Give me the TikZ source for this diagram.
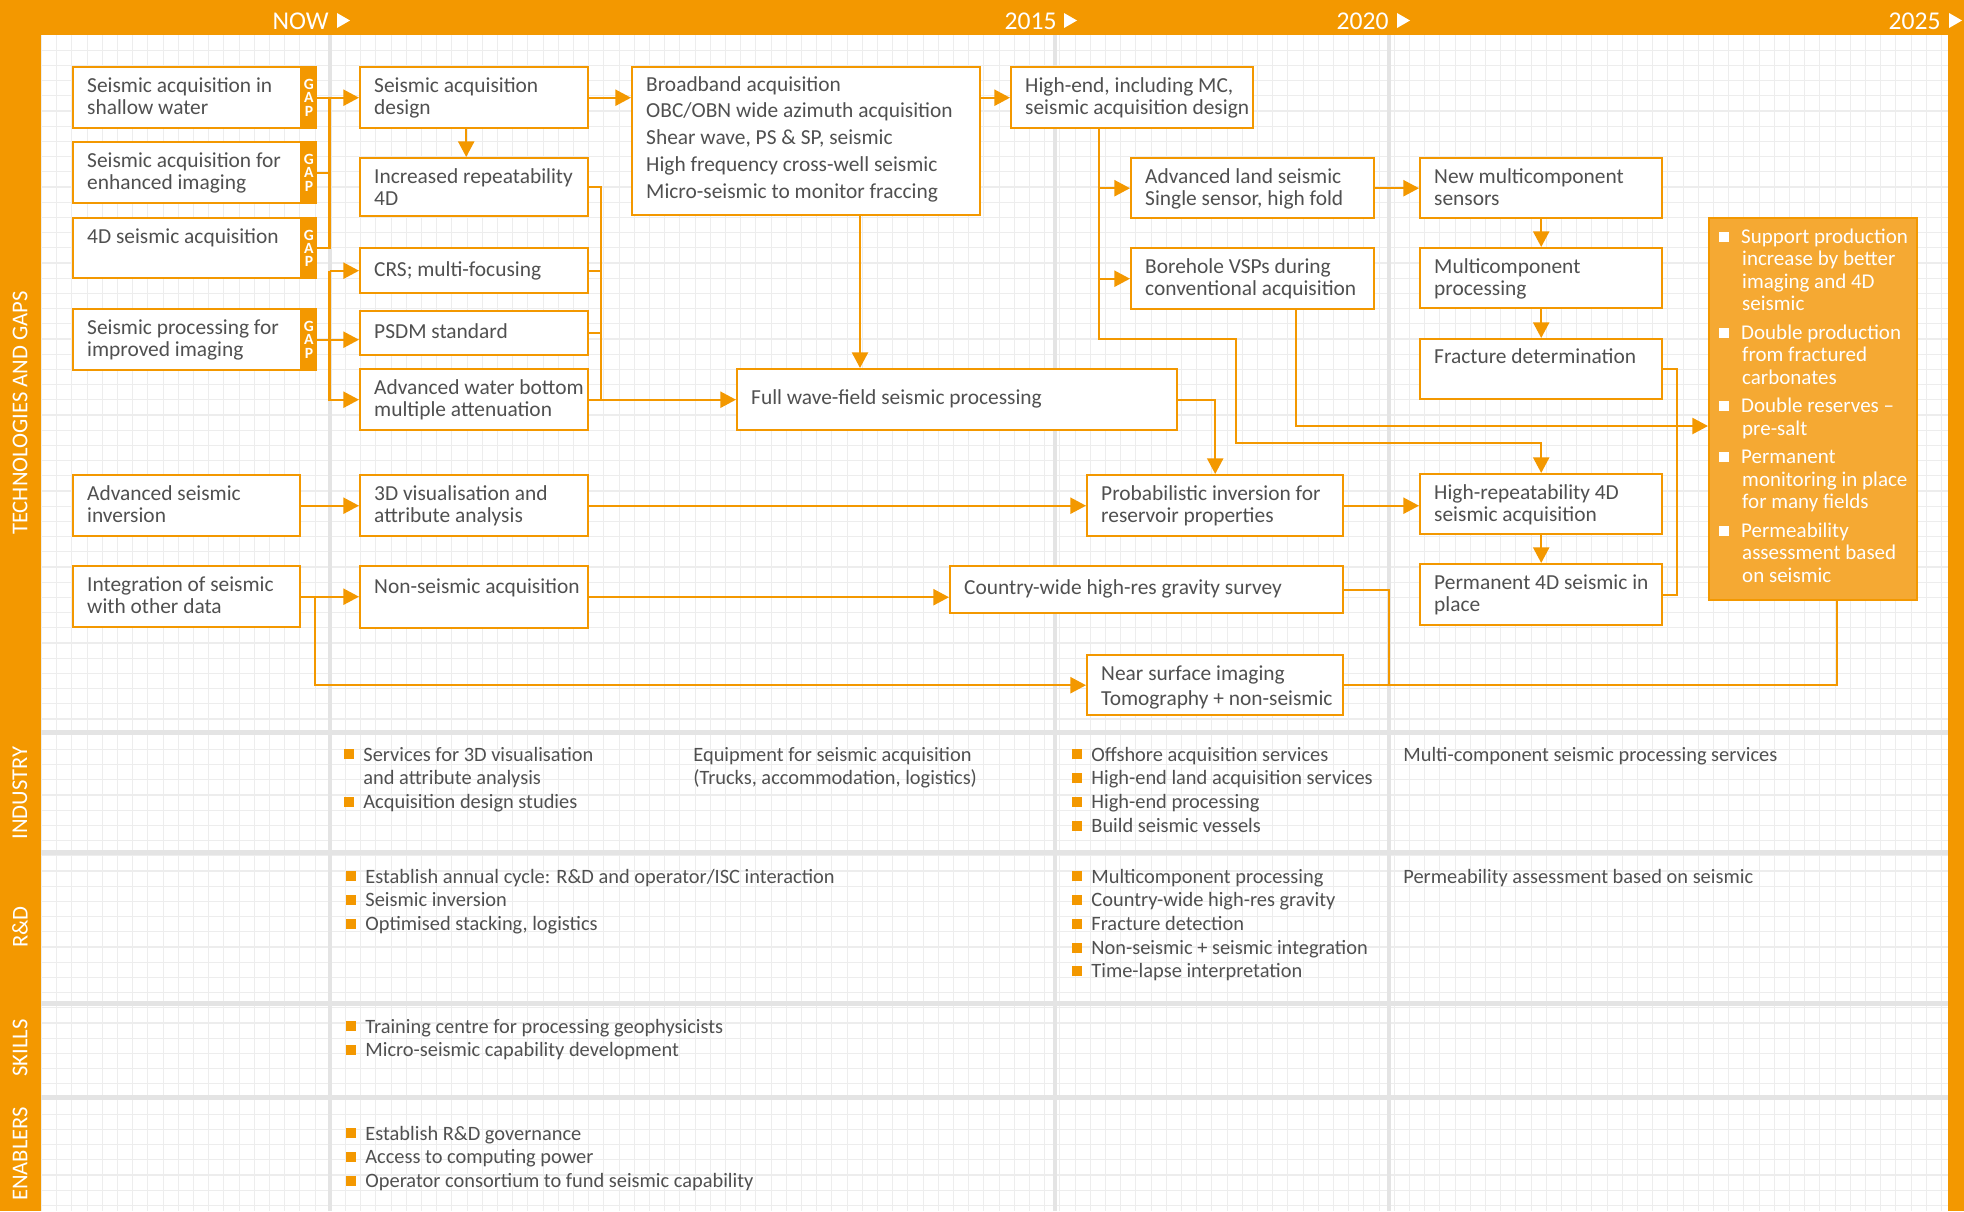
\documentclass[tikz,border=0pt]{standalone}
\usepackage{fontspec}
\setmainfont{Carlito}
\usetikzlibrary{arrows.meta}
\definecolor{or}{HTML}{F39800}
\definecolor{sfill}{HTML}{F5A933}
\definecolor{tx}{HTML}{505050}
\definecolor{gridc}{HTML}{EDEDED}
\definecolor{sepc}{HTML}{E4E4E4}
\newcommand\bfnt{\fontsize{10.7}{11.35}\selectfont\color{tx}}
\newcommand\bxt[4][12.5pt]{\parbox[c][#3][t]{#2}{\bfnt\raggedright\leftskip=7pt\rightskip=-40pt plus 1fil\rule{0pt}{#1}#4}}
\newcommand\osq[2]{\makebox[#2][l]{\textcolor{#1}{\raisebox{0.8pt}{\rule{5pt}{5pt}}}}}
\newcommand\lii[1]{\par\noindent\osq{or}{9.5pt}#1}
\newcommand\lcc[1]{\par\noindent\hspace*{9.5pt}#1}
\newcommand\lfn{\fontsize{10.2}{11.85}\selectfont\raggedright\rightskip=-40pt plus 1fil}
\newcommand\lbk[2]{{\color{tx}\parbox[t]{#1}{\lfn #2}}}
\newcommand\sfi[1]{\par\noindent\rule{0pt}{12.5pt}\osq{white}{11pt}#1}
\newcommand\sii[1]{\par\vspace{3pt}\noindent\osq{white}{11pt}#1}
\newcommand\scc[1]{\par\noindent\hspace*{11.5pt}#1}
\begin{document}
\begin{tikzpicture}[x=0.5pt,y=-0.5pt,
  bx/.style={draw=or, line width=1.2pt, fill=white, inner sep=0pt, anchor=north west},
  ln/.style={draw=or, line width=1.1pt},
  ar/.style={ln, -{Triangle[length=7.8pt,width=8pt]}},
  gapt/.style={text=white, font=\fontsize{7.8}{6.6}\selectfont\bfseries, inner sep=0pt, align=center},
  hdr/.style={text=white, font=\fontsize{12.8}{14}\selectfont, inner sep=0pt, anchor=base east},
  side/.style={text=white, font=\fontsize{11.3}{13}\selectfont, rotate=90, inner sep=0pt},
  lst/.style={inner sep=0pt, anchor=base west}]
\useasboundingbox (0,0) rectangle (1964,1211);
\fill[white] (0,0) rectangle (1964,1211);
% fine grid
\foreach \i in {0,...,125} {\draw[gridc, line width=0.55pt] ({41.5+15.2*\i},35) -- ({41.5+15.2*\i},1211);}
\foreach \j in {1,...,77} {\draw[gridc, line width=0.55pt] (41,{35+15.2*\j}) -- (1948,{35+15.2*\j});}
% separators
\foreach \xx in {329.5,1055,1389} {\draw[sepc, line width=2pt] (\xx,35) -- (\xx,1211);}
\foreach \yy in {732,852,1003,1097} {\draw[sepc, line width=2.5pt] (41,\yy) -- (1948,\yy);}
% frame
\fill[or] (0,0) rectangle (1964,35);
\fill[or] (0,0) rectangle (41,1211);
\fill[or] (1948,0) rectangle (1964,1211);
% header
\node[hdr] (hnow) at (329,29) {NOW};
\fill[white] (337,13) -- (350,20.5) -- (337,28) -- cycle;
\node[hdr] (h15) at (1057,29) {2015};
\fill[white] (1064,13) -- (1077,20.5) -- (1064,28) -- cycle;
\node[hdr] (h20) at (1389,29) {2020};
\fill[white] (1397,13) -- (1410,20.5) -- (1397,28) -- cycle;
\node[hdr] (h25) at (1941,29) {2025};
\fill[white] (1949,13) -- (1962,20.5) -- (1949,28) -- cycle;
% side labels
\node[side] (lt) at (20,413) {TECHNOLOGIES AND GAPS};
\node[side] (li) at (20,793) {INDUSTRY};
\node[side] (lr) at (20,927) {R\&D};
\node[side] (ls) at (20,1048) {SKILLS};
\node[side] (le) at (20,1154) {ENABLERS};
% column 1
\node[bx] (g1) at (72,66) {\bxt{121.5pt}{30.5pt}{Seismic acquisition in\\shallow water}};
\node[bx] (g2) at (72,141) {\bxt{121.5pt}{30.5pt}{Seismic acquisition for\\enhanced imaging}};
\node[bx] (g3) at (72,217) {\bxt{121.5pt}{30pt}{4D seismic acquisition}};
\node[bx] (g4) at (72,308) {\bxt{121.5pt}{30.5pt}{Seismic processing for\\improved imaging}};
\foreach \g in {g1,g2,g3,g4} {
  \fill[or] ([xshift=-8.5pt]\g.north east) rectangle (\g.south east);
  \node[gapt] (gap\g) at ([xshift=-4.25pt]\g.east) {G\\A\\P};
}
\node[bx] (a5) at (72,474) {\bxt{113.5pt}{30.5pt}{Advanced seismic\\inversion}};
\node[bx] (a6) at (72,565) {\bxt{113.5pt}{30.5pt}{Integration of seismic\\with other data}};
% column 2
\node[bx] (c1) at (359,66) {\bxt{114pt}{30.5pt}{Seismic acquisition\\design}};
\node[bx] (c2) at (359,157) {\bxt{114pt}{29pt}{Increased repeatability\\4D}};
\node[bx] (c3) at (359,247) {\bxt[14pt]{114pt}{22.5pt}{CRS; multi-focusing}};
\node[bx] (c4) at (359,310) {\bxt[13.5pt]{114pt}{22pt}{PSDM standard}};
\node[bx] (c5) at (359,368) {\bxt{114pt}{30.5pt}{Advanced water bottom\\multiple attenuation}};
\node[bx] (c6) at (359,474) {\bxt{114pt}{30.5pt}{3D visualisation and\\attribute analysis}};
\node[bx] (c7) at (359,565) {\bxt[13.5pt]{114pt}{31pt}{Non-seismic acquisition}};
% column 3
\node[bx] (d1) at (631,66) {\bxt[12pt]{174pt}{74pt}{\baselineskip=13.35pt Broadband acquisition\\OBC/OBN wide azimuth acquisition\\Shear wave, PS \& SP, seismic\\High frequency cross-well seismic\\Micro-seismic to monitor fraccing}};
\node[bx] (d2) at (1010,66) {\bxt{121pt}{30.5pt}{High-end, including MC,\\seismic acquisition design}};
\node[bx] (d3) at (736,368) {\bxt[17.5pt]{220pt}{30.5pt}{Full wave-field seismic processing}};
\node[bx] (d4) at (1130,157) {\bxt{121.5pt}{30pt}{Advanced land seismic\\Single sensor, high fold}};
\node[bx] (d5) at (1130,247) {\bxt{121.5pt}{30.5pt}{Borehole VSPs during\\conventional acquisition}};
\node[bx] (d6) at (1086,474) {\bxt{128pt}{30.5pt}{Probabilistic inversion for\\reservoir properties}};
\node[bx] (d7) at (949,565) {\bxt[13.9pt]{196.5pt}{23.5pt}{Country-wide high-res gravity survey}};
\node[bx] (d8) at (1086,654) {\bxt{128pt}{30pt}{\baselineskip=12.4pt Near surface imaging\\Tomography + non-seismic}};
% column 4
\node[bx] (e1) at (1419,157) {\bxt{121pt}{30pt}{New multicomponent\\sensors}};
\node[bx] (e2) at (1419,247) {\bxt{121pt}{30pt}{Multicomponent\\processing}};
\node[bx] (e3) at (1419,338) {\bxt[12pt]{121pt}{30pt}{Fracture determination}};
\node[bx] (e4) at (1419,473) {\bxt{121pt}{30pt}{High-repeatability 4D\\seismic acquisition}};
\node[bx] (e5) at (1419,563) {\bxt{121pt}{30.5pt}{Permanent 4D seismic in\\place}};
% summary
\node[bx, fill=sfill] (s) at (1708,217) {\parbox[c][191pt][t]{104pt}{\fontsize{10.5}{11.25}\selectfont\color{white}\raggedright\leftskip=5pt\rightskip=-40pt plus 1fil
  \sfi{Support production}\scc{increase by better}\scc{imaging and 4D}\scc{seismic}
  \sii{Double production}\scc{from fractured}\scc{carbonates}
  \sii{Double reserves --}\scc{pre-salt}
  \sii{Permanent}\scc{monitoring in place}\scc{for many fields}
  \sii{Permeability}\scc{assessment based}\scc{on seismic}}};
% coordinates
\coordinate (gb) at (329.5,0);
\coordinate (cb) at (601,0);
\coordinate (x860) at (860,0);
\coordinate (v) at (1099,0);
\coordinate (k1) at (1236,339);
\coordinate (k2) at (1236,443);
\coordinate (x1296) at (1296,0);
\coordinate (jy) at (0,426);
\coordinate (j) at (1677,426);
\coordinate (x315) at (315,0);
\coordinate (x1389) at (1389,0);
\coordinate (x1837) at (1837,0);
% connectors
\draw[ar] (g1.east) -- (c1.west);
\draw[ln] (g2.east) -- (g2.east -| gb);
\draw[ln] (g3.east) -| (g1.east -| gb);
\draw[ar] (g4.east) -- (g4.east -| c4.west);
\draw[ar] (c3.west -| gb) -- (c3.west);
\draw[ar] (c3.west -| gb) |- (c5.west);
\draw[ar] ([xshift=-4pt]c1.south) -- ([xshift=-4pt]c2.north);
\draw[ar] (c1.east) -- (c1.east -| d1.west);
\draw[ln] (c2.east) -| (c5.east -| cb);
\draw[ln] (c3.east) -- (c3.east -| cb);
\draw[ln] (c4.east) -- (c4.east -| cb);
\draw[ar] (c5.east) -- (d3.west);
\draw[ar] (d1.south -| x860) -- (d3.north -| x860);
\draw[ar] (d1.east |- d2.west) -- (d2.west);
\draw[ar] (d2.south -| v) |- (d4.west);
\draw[ar] (d2.south -| v) |- (d5.west);
\draw[ar] (d2.south -| v) |- (k1) -- (k2) -| (e4.north);
\draw[ar] (d5.south -| x1296) |- (s.west |- jy);
\draw[ln] (e3.east) -| (j);
\draw[ln] (e5.east) -| (j);
\draw[ar] (d3.east) -| (d6.north);
\draw[ar] (d4.east) -- (e1.west);
\draw[ar] (e1.south) -- (e2.north);
\draw[ar] (e2.south) -- (e3.north);
\draw[ar] (e4.south) -- (e5.north);
\draw[ar] (d6.east) -- (d6.east -| e4.west);
\draw[ar] (c6.east) -- (d6.west);
\draw[ar] (a5.east) -- (c6.west);
\draw[ar] (a6.east) -- (a6.east -| c7.west);
\draw[ar] (a6.east -| x315) |- (d8.west);
\draw[ar] (c7.east) -- (c7.east -| d7.west);
\draw[ln] (d7.east) -| (d8.east -| x1389);
\draw[ln] (d8.east) -| (s.south -| x1837);
% lower rows
\node[lst] (i1) at (344,761) {\lbk{200pt}{\lii{Services for 3D visualisation}\lcc{and attribute analysis}\lii{Acquisition design studies}}};
\node[lst] (i2) at (693,761) {\lbk{200pt}{Equipment for seismic acquisition\par(Trucks, accommodation, logistics)}};
\node[lst] (i3) at (1072,761) {\lbk{200pt}{\lii{Offshore acquisition services}\lii{High-end land acquisition services}\lii{High-end processing}\lii{Build seismic vessels}}};
\node[lst] (i4) at (1403,761) {\lbk{250pt}{Multi-component seismic processing services}};
\node[lst] (r1) at (346,883) {\lbk{300pt}{\lii{Establish annual cycle: R\&D and operator/ISC interaction}\lii{Seismic inversion}\lii{Optimised stacking, logistics}}};
\node[lst] (r2) at (1072,883) {\lbk{200pt}{\lii{Multicomponent processing}\lii{Country-wide high-res gravity}\lii{Fracture detection}\lii{Non-seismic + seismic integration}\lii{Time-lapse interpretation}}};
\node[lst] (r3) at (1403,883) {\lbk{250pt}{Permeability assessment based on seismic}};
\node[lst] (k1n) at (346,1033) {\lbk{250pt}{\lii{Training centre for processing geophysicists}\lii{Micro-seismic capability development}}};
\node[lst] (n1) at (346,1140) {\lbk{250pt}{\lii{Establish R\&D governance}\lii{Access to computing power}\lii{Operator consortium to fund seismic capability}}};
\end{tikzpicture}
\end{document}
